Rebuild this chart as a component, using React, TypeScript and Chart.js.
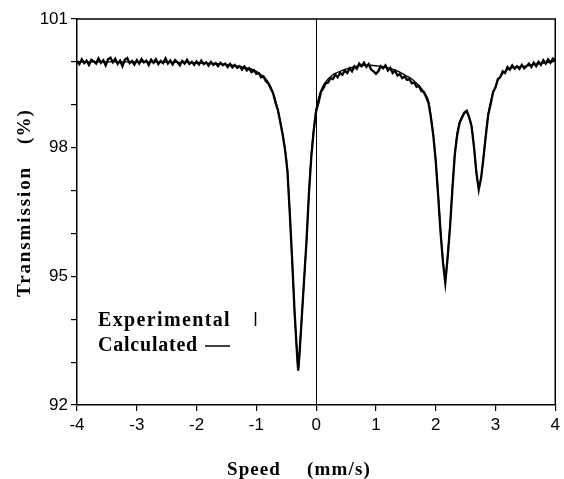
import React, { useEffect, useRef } from "react";
import { Chart, registerables } from "chart.js";

Chart.register(...registerables);

// Calculated (fitted) spectrum
const calcSpeed = [
  -4, -3, -2, -1.5, -1.3, -1.2, -1.1, -1.0, -0.92, -0.84, -0.8, -0.76, -0.72, -0.68, -0.64, -0.6, -0.56, -0.52,
  -0.48, -0.44, -0.4, -0.36, -0.32, -0.3, -0.28, -0.24, -0.2, -0.16, -0.12, -0.08, -0.04, 0, 0.04, 0.08, 0.12, 0.16,
  0.2, 0.24, 0.28, 0.32, 0.4, 0.5, 0.6, 0.7, 0.8, 0.9, 1.0, 1.1, 1.2, 1.3, 1.4, 1.5, 1.6, 1.68, 1.76, 1.84, 1.88,
  1.92, 1.96, 2.0, 2.04, 2.08, 2.12, 2.16, 2.2, 2.24, 2.28, 2.32, 2.36, 2.4, 2.44, 2.48, 2.52, 2.56, 2.6, 2.64, 2.68,
  2.72, 2.76, 2.8, 2.84, 2.88, 2.92, 2.96, 3.0, 3.04, 3.08, 3.12, 3.16, 3.2, 3.24, 3.3, 3.4, 3.5, 3.6, 3.7, 3.8, 3.9, 4.0,
];
const calcTrans = [
  100.0, 100.0, 99.98, 99.94, 99.9, 99.87, 99.84, 99.78, 99.7, 99.6, 99.52, 99.42, 99.28, 99.1, 98.88, 98.62, 98.34, 97.98,
  97.48, 96.45, 95.35, 94.15, 93.2, 92.82, 93.2, 94.05, 94.95, 95.85, 96.95, 97.85, 98.45, 98.9, 99.15, 99.33, 99.45, 99.53,
  99.6, 99.65, 99.7, 99.73, 99.78, 99.83, 99.87, 99.9, 99.92, 99.92, 99.91, 99.89, 99.86, 99.82, 99.76, 99.68, 99.6, 99.5,
  99.38, 99.22, 99.08, 98.75, 98.3, 97.71, 96.95, 96.1, 95.4, 94.92, 95.5, 96.2, 97.1, 97.85, 98.34, 98.6, 98.73, 98.8,
  98.82, 98.72, 98.5, 98.05, 97.45, 97.06, 97.3, 97.8, 98.35, 98.8, 99.07, 99.28, 99.42, 99.57, 99.66, 99.73, 99.78, 99.82,
  99.85, 99.87, 99.89, 99.9, 99.93, 99.95, 99.97, 99.99, 100.02,
];

// Experimental spectrum
const expSpeed = [
  -4, -3.96, -3.92, -3.88, -3.84, -3.8, -3.76, -3.72, -3.68, -3.64,
  -3.6, -3.56, -3.52, -3.48, -3.44, -3.4, -3.36, -3.32, -3.28, -3.24,
  -3.2, -3.16, -3.12, -3.08, -3.04, -3, -2.96, -2.92, -2.88, -2.84,
  -2.8, -2.76, -2.72, -2.68, -2.64, -2.6, -2.56, -2.52, -2.48, -2.44,
  -2.4, -2.36, -2.32, -2.28, -2.24, -2.2, -2.16, -2.12, -2.08, -2.04,
  -2, -1.96, -1.92, -1.88, -1.84, -1.8, -1.76, -1.72, -1.68, -1.64,
  -1.6, -1.56, -1.52, -1.48, -1.44, -1.4, -1.36, -1.32, -1.28, -1.24,
  -1.2, -1.16, -1.12, -1.08, -1.04, -1, -0.96, -0.92, -0.88, -0.84,
  -0.8, -0.76, -0.72, -0.68, -0.64, -0.6, -0.56, -0.52, -0.48, -0.44,
  -0.4, -0.36, -0.32, -0.3, -0.28, -0.24, -0.2, -0.16, -0.12, -0.08, -0.04,
  0, 0.04, 0.08, 0.12, 0.16, 0.2, 0.24, 0.28, 0.32, 0.36,
  0.4, 0.44, 0.48, 0.52, 0.56, 0.6, 0.64, 0.68, 0.72, 0.76,
  0.8, 0.84, 0.88, 0.92, 0.96, 1, 1.04, 1.08, 1.12, 1.16,
  1.2, 1.24, 1.28, 1.32, 1.36, 1.4, 1.44, 1.48, 1.52, 1.56,
  1.6, 1.64, 1.68, 1.72, 1.76, 1.8, 1.84, 1.88, 1.92, 1.96,
  2, 2.04, 2.08, 2.12, 2.16, 2.2, 2.24, 2.28, 2.32, 2.36,
  2.4, 2.44, 2.48, 2.52, 2.56, 2.6, 2.64, 2.68, 2.72, 2.76,
  2.8, 2.84, 2.88, 2.92, 2.96, 3, 3.04, 3.08, 3.12, 3.16,
  3.2, 3.24, 3.28, 3.32, 3.36, 3.4, 3.44, 3.48, 3.52, 3.56,
  3.6, 3.64, 3.68, 3.72, 3.76, 3.8, 3.84, 3.88, 3.92, 3.96, 4,
];
const expTrans = [
  100.02, 99.95, 100.06, 99.97, 100.03, 99.93, 100.05, 100.01, 99.96, 100.08,
  99.98, 100.04, 99.92, 100.06, 100.1, 99.99, 100.07, 99.95, 100.03, 99.9,
  100.05, 100.09, 99.97, 100.02, 99.94, 100.04, 99.96, 100.07, 99.99, 100.03,
  99.93, 100.05, 99.98, 100.06, 99.95, 100.02, 99.97, 100.08, 99.96, 100.03,
  99.94, 100.04, 99.99, 99.92, 100.02, 99.96, 100.05, 99.95, 100.0, 99.93,
  100.01, 99.94, 100.03, 99.95, 99.99, 99.91, 100.0, 99.93, 99.97, 99.9,
  99.98, 99.92, 99.96, 99.88, 99.95, 99.87, 99.93, 99.86, 99.9, 99.82,
  99.89, 99.8, 99.85, 99.76, 99.8, 99.72, 99.74, 99.64, 99.66, 99.55,
  99.5, 99.38, 99.27, 99.05, 98.88, 98.6, 98.3, 97.95, 97.45, 96.45,
  95.35, 94.15, 93.2, 92.8, 93.15, 94.05, 94.95, 95.85, 96.95, 97.8, 98.4,
  98.85, 99.05, 99.3, 99.38, 99.5, 99.52, 99.62, 99.6, 99.7, 99.64,
  99.74, 99.7, 99.8, 99.74, 99.85, 99.78, 99.9, 99.84, 99.96, 99.9,
  99.98, 99.88, 99.95, 99.82, 99.78, 99.72, 99.78, 99.9, 99.85, 99.92,
  99.8, 99.86, 99.74, 99.8, 99.68, 99.72, 99.62, 99.66, 99.58, 99.6,
  99.5, 99.52, 99.42, 99.44, 99.32, 99.3, 99.18, 99.04, 98.7, 98.28,
  97.7, 96.9, 96.05, 95.35, 94.85, 95.45, 96.15, 97.05, 97.85, 98.3,
  98.58, 98.7, 98.82, 98.86, 98.7, 98.5, 98.02, 97.42, 97.02, 97.3,
  97.78, 98.3, 98.78, 99.02, 99.3, 99.4, 99.6, 99.64, 99.78, 99.74,
  99.88, 99.82, 99.92, 99.84, 99.9, 99.84, 99.93, 99.85, 99.9, 99.96,
  99.88, 99.98, 99.9, 100.0, 99.93, 100.04, 99.96, 100.06, 99.98, 100.08, 100.03,
];

const yLabelledTicks = [92, 95, 98, 101];

const SERIF = "'Liberation Serif', 'Times New Roman', serif";
const SANS = "'Liberation Sans', Arial, sans-serif";

function drawSpaced(ctx: CanvasRenderingContext2D, text: string, x: number, y: number, target: number) {
  (ctx as any).letterSpacing = "0px";
  const w = ctx.measureText(text).width;
  const sp = (target - w) / text.length;
  (ctx as any).letterSpacing = sp.toFixed(2) + "px";
  ctx.fillText(text, x, y);
  (ctx as any).letterSpacing = "0px";
}

const decorPlugin = {
  id: "decor",
  beforeDatasetsDraw(chart: any) {
    const { ctx, chartArea, scales } = chart;
    const x0 = scales.x.getPixelForValue(0);
    ctx.save();
    ctx.strokeStyle = "#000";
    ctx.lineWidth = 1;
    ctx.beginPath();
    ctx.moveTo(Math.round(x0) + 0.5, chartArea.top);
    ctx.lineTo(Math.round(x0) + 0.5, chartArea.bottom);
    ctx.stroke();
    ctx.restore();
  },
  afterDraw(chart: any) {
    const { ctx, chartArea } = chart;
    ctx.save();
    ctx.strokeStyle = "#000";
    ctx.lineWidth = 1.5;
    ctx.beginPath();
    ctx.moveTo(chartArea.left, chartArea.top);
    ctx.lineTo(chartArea.right, chartArea.top);
    ctx.lineTo(chartArea.right, chartArea.bottom);
    ctx.stroke();

    ctx.fillStyle = "#000";
    ctx.textBaseline = "alphabetic";
    ctx.textAlign = "left";

    // x title
    ctx.font = "bold 19px " + SERIF;
    drawSpaced(ctx, "Speed", 227, 475, 54);
    drawSpaced(ctx, "(mm/s)", 307, 475, 64);

    // y title
    ctx.save();
    ctx.translate(30, 297);
    ctx.rotate(-Math.PI / 2);
    drawSpaced(ctx, "Transmission", 0, 0, 131);
    ctx.restore();
    ctx.save();
    ctx.translate(30, 144);
    ctx.rotate(-Math.PI / 2);
    drawSpaced(ctx, "(%)", 0, 0, 35);
    ctx.restore();

    // legend
    ctx.font = "bold 20px " + SERIF;
    drawSpaced(ctx, "Experimental", 98, 326, 133);
    drawSpaced(ctx, "Calculated", 98, 351, 100);
    ctx.lineWidth = 1.5;
    ctx.beginPath();
    ctx.moveTo(255.5, 312);
    ctx.lineTo(255.5, 326);
    ctx.moveTo(205, 346);
    ctx.lineTo(230, 346);
    ctx.stroke();
    ctx.restore();
  },
};

export default function App() {
  const ref = useRef<HTMLCanvasElement | null>(null);
  useEffect(() => {
    if (!ref.current) return;
    const chart = new Chart(ref.current, {
      type: "line",
      data: {
        datasets: [
          {
            label: "Experimental",
            data: expSpeed.map((x, i) => ({ x, y: expTrans[i] })),
            borderColor: "#000",
            borderWidth: 2.3,
            pointRadius: 0,
            tension: 0,
          },
          {
            label: "Calculated",
            data: calcSpeed.map((x, i) => ({ x, y: calcTrans[i] })),
            borderColor: "#000",
            borderWidth: 1.4,
            pointRadius: 0,
            cubicInterpolationMode: "monotone",
          },
        ],
      },
      options: {
        animation: false,
        responsive: false,
        maintainAspectRatio: false,
        layout: { padding: { left: 0, right: 5, top: 19, bottom: 0 } },
        plugins: { legend: { display: false }, tooltip: { enabled: false } },
        scales: {
          x: {
            type: "linear",
            min: -4,
            max: 4,
            afterFit: (s: any) => {
              s.height = 74;
            },
            border: { color: "#000", width: 1.5 },
            grid: { drawOnChartArea: false, drawTicks: true, tickLength: 6, color: "#000", lineWidth: 1.2 },
            ticks: {
              stepSize: 1,
              color: "#000",
              padding: 4,
              maxRotation: 0,
              font: { family: SANS, size: 17 },
              callback: (v: any) => String(v),
            },
          },
          y: {
            type: "linear",
            min: 92,
            max: 101,
            afterFit: (s: any) => {
              s.width = 77;
            },
            border: { color: "#000", width: 1.5 },
            grid: { drawOnChartArea: false, drawTicks: true, tickLength: 6, color: "#000", lineWidth: 1.2 },
            ticks: {
              stepSize: 1,
              color: "#000",
              padding: 3,
              font: { family: SANS, size: 17 },
              callback: (v: any) => (yLabelledTicks.includes(Number(v)) ? String(v) : ""),
            },
          },
        },
      },
      plugins: [decorPlugin],
    });
    return () => chart.destroy();
  }, []);
  return (
    <div style={{ position: "fixed", left: 0, top: 0, width: 564, height: 479, background: "#fff" }}>
      <canvas ref={ref} width={564} height={479} style={{ width: 564, height: 479, display: "block" }} />
    </div>
  );
}
